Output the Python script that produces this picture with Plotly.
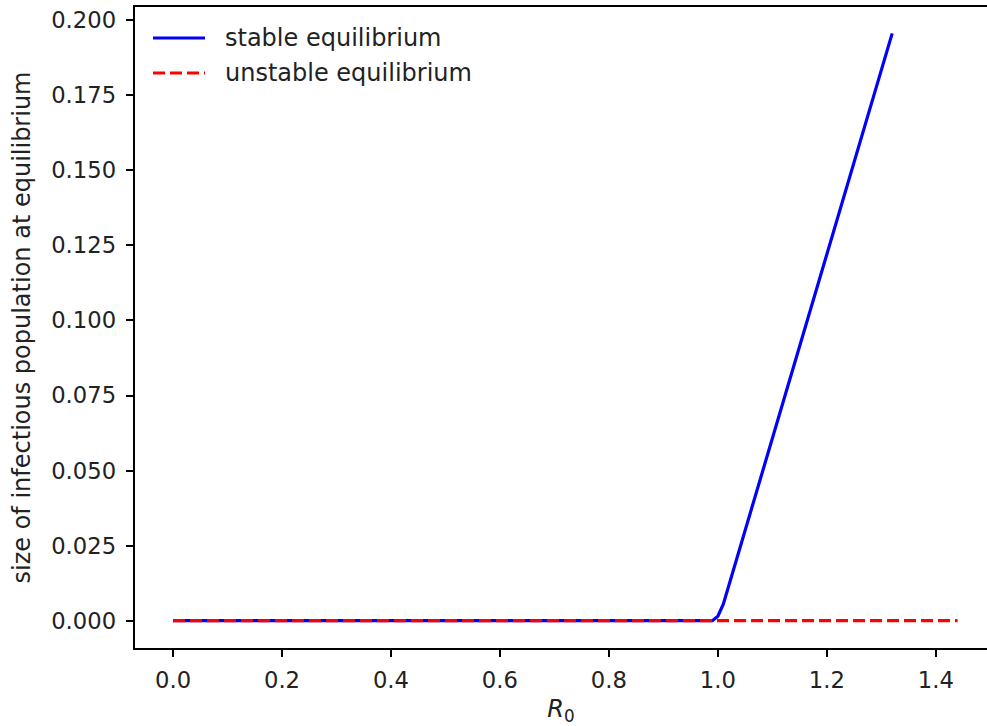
import plotly.graph_objects as go

# Data
r0_stable = [0.0, 0.99, 1.0, 1.01, 1.32]
i_stable = [0.0, 0.0, 0.0015, 0.0055, 0.1956]
r0_unstable = [0.0, 1.44]
i_unstable = [0.0, 0.0]

x_ticks = [0.0, 0.2, 0.4, 0.6, 0.8, 1.0, 1.2, 1.4]
x_ticklabels = ["0.0", "0.2", "0.4", "0.6", "0.8", "1.0", "1.2", "1.4"]
y_ticks = [0.0, 0.025, 0.05, 0.075, 0.1, 0.125, 0.15, 0.175, 0.2]
y_ticklabels = ["0.000", "0.025", "0.050", "0.075", "0.100", "0.125", "0.150", "0.175", "0.200"]

series_names = ["stable equilibrium", "unstable equilibrium"]
series_colors = ["#0000ff", "#ff0000"]
series_dash = ["solid", "12px,5px"]

FONT = "DejaVu Sans"
FS = 22.7
LFS = 24
TFS = 24
TXT = "#222"

fig = go.Figure()
fig.add_trace(go.Scatter(x=r0_stable, y=i_stable, mode="lines",
                         line=dict(color=series_colors[0], width=3.2, dash=series_dash[0]),
                         name=series_names[0], showlegend=False))
fig.add_trace(go.Scatter(x=r0_unstable, y=i_unstable, mode="lines",
                         line=dict(color=series_colors[1], width=3.2, dash=series_dash[1]),
                         name=series_names[1], showlegend=False))

# Plot area in pixels: x 135..987, y 7..648
L, R, T, B = 135, 987, 7, 648
def px(x):
    return (x - L) / (R - L)
def py(y):
    return (B - y) / (B - T)

# Legend (manual, matplotlib-like, no frame)
leg_rows = [38, 73]
for name, col, dash, yy in zip(series_names, series_colors, series_dash, leg_rows):
    fig.add_shape(type="line", xref="paper", yref="paper",
                  x0=px(153), x1=px(205), y0=py(yy), y1=py(yy),
                  line=dict(color=col, width=3.2, dash=dash))
    fig.add_annotation(xref="paper", yref="paper", x=px(223), y=py(yy),
                       xanchor="left", yanchor="middle", showarrow=False,
                       text=name, font=dict(family=FONT, size=LFS, color=TXT))

axis_common = dict(showgrid=False, zeroline=False, showline=True, linecolor="black",
                   linewidth=1.7, ticks="outside", ticklen=7.5, tickwidth=1.7,
                   tickcolor="black", tickfont=dict(family=FONT, size=FS, color=TXT))

fig.update_layout(
    width=987, height=726,
    margin=dict(l=L, r=0, t=T, b=726 - B),
    paper_bgcolor="white", plot_bgcolor="white",
    font=dict(family=FONT, size=FS, color=TXT),
    xaxis=dict(range=[-0.0698, 1.494], tickvals=x_ticks, ticktext=x_ticklabels,
               mirror=True, ticklabelstandoff=3,
               title=dict(text="<i>R</i><sub>0</sub>", standoff=13,
                          font=dict(family=FONT, size=TFS, color=TXT)),
               **axis_common),
    yaxis=dict(range=[-0.00909, 0.2044], tickvals=y_ticks, ticktext=y_ticklabels,
               ticklabelstandoff=5,
               title=dict(text="size of infectious population at equilibrium", standoff=14,
                          font=dict(family=FONT, size=TFS, color=TXT)),
               **axis_common),
    showlegend=False,
)

fig.write_html("out.html")
